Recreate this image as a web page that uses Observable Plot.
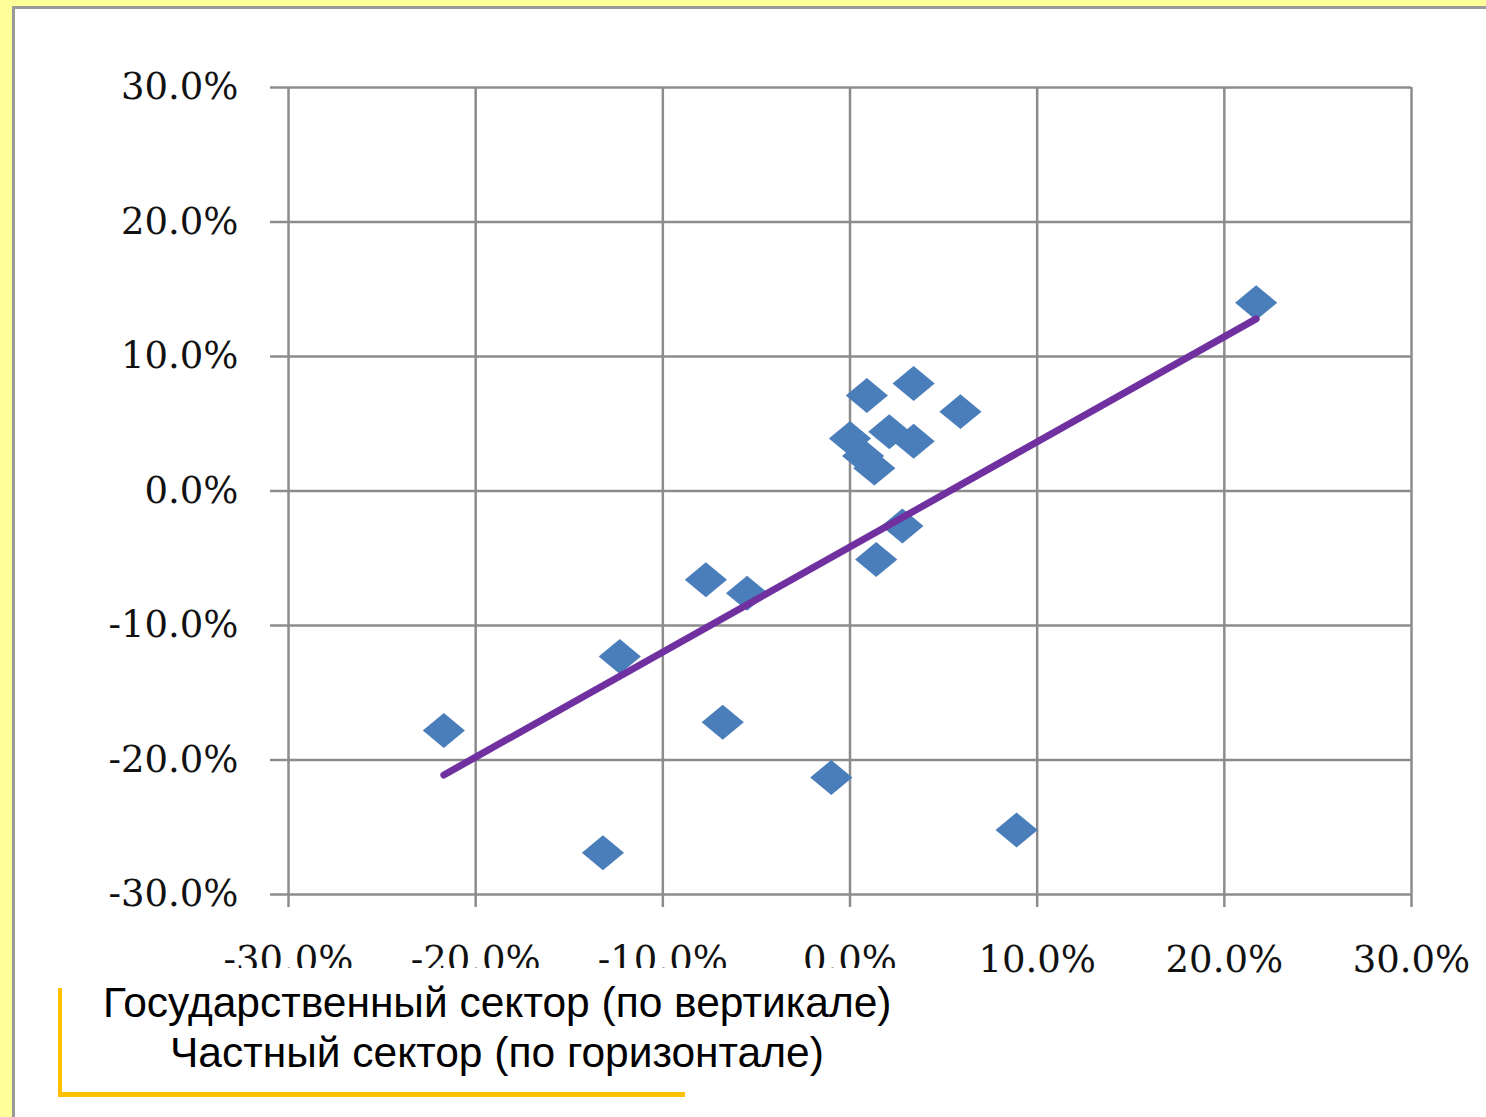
<!DOCTYPE html>
<html>
<head>
<meta charset="utf-8">
<script src="https://cdn.jsdelivr.net/npm/d3@7"></script>
<script src="https://cdn.jsdelivr.net/npm/@observablehq/plot@0.6"></script>
<style>
  html, body { margin: 0; padding: 0; width: 1486px; height: 1117px; overflow: hidden; background: #ffff99; }
  #panel { position: absolute; left: 12px; top: 6px; width: 1474px; height: 1111px; background: #fff;
           border-left: 3px solid #9a9a9a; border-top: 3px solid #9a9a9a; box-sizing: border-box; }
  #chart { position: absolute; left: 0; top: 0; }
  #caption { position: absolute; left: 58px; top: 968px; width: 842px; height: 127px; background: #fff;
             font-family: "Liberation Sans", Arial, sans-serif; font-size: 42.5px; color: #000; }
  #caption .l1 { position: absolute; left: 45px; top: 11px; white-space: nowrap; }
  #caption .l2 { position: absolute; left: 112px; top: 61px; white-space: nowrap; }
  #yline { position: absolute; left: 58px; top: 988px; width: 4px; height: 108px; background: #ffc000; }
  #hline { position: absolute; left: 58px; top: 1092px; width: 627px; height: 5px; background: #ffc000; }
</style>
</head>
<body>
<div id="panel"></div>
<div id="chart"></div>
<div id="caption"><div class="l1">Государственный сектор (по вертикале)</div><div class="l2">Частный сектор (по горизонтале)</div></div>
<div id="yline"></div>
<div id="hline"></div>
<script>
// Private sector growth (x, %) and public sector growth (y, %)
const privateSector = [21.7, 3.4, 0.9, 5.9, 0.0, 2.1, 3.4, 0.7, 1.3, 2.8, 1.4, -7.7, -5.5, -12.3, -6.8, -21.7, -1.0, 8.9, -13.2];
const publicSector  = [14.0, 8.0, 7.1, 5.9, 3.9, 4.4, 3.7, 2.6, 1.7, -2.6, -5.1, -6.6, -7.6, -12.3, -17.2, -17.8, -21.3, -25.2, -26.9];
const xTicks = [-30, -20, -10, 0, 10, 20, 30];
const yTicks = [-30, -20, -10, 0, 10, 20, 30];

const data = privateSector.map((x, i) => ({x, y: publicSector[i]}));
const fmt = d => d.toFixed(1) + "%";
const gridColor = "#8c8c8c";

// Slightly wide diamond, like Excel's marker
const wideDiamond = {
  draw(context, size) {
    const s = Math.sqrt(size);
    const w = s * 0.70, h = s * 0.58;
    context.moveTo(0, -h);
    context.lineTo(w, 0);
    context.lineTo(0, h);
    context.lineTo(-w, 0);
    context.closePath();
  }
};

const chart = Plot.plot({
  width: 1486,
  height: 1000,
  marginLeft: 288,
  marginRight: 75,
  marginTop: 87,
  marginBottom: 106,
  style: {background: "transparent", fontFamily: "'DejaVu Serif', serif", fontSize: "37px", color: "#111"},
  x: {domain: [-30, 30], label: null},
  y: {domain: [-30, 30], label: null},
  marks: [
    Plot.gridX(xTicks, {stroke: gridColor, strokeOpacity: 1, strokeWidth: 2.5}),
    Plot.gridY(yTicks, {stroke: gridColor, strokeOpacity: 1, strokeWidth: 2.5}),
    Plot.axisX({ticks: xTicks, tickFormat: fmt, tickSize: 13, tickPadding: 38, stroke: gridColor, strokeWidth: 2.5, label: null}),
    Plot.axisY({ticks: yTicks, tickFormat: fmt, tickSize: 18, tickPadding: 32, stroke: gridColor, strokeWidth: 2.5, label: null}),
    Plot.dot(data, {x: "x", y: "y", symbol: wideDiamond, r: 17, fill: "#4a7ebb", stroke: "none"}),
    Plot.linearRegressionY(data, {x: "x", y: "y", ci: 0, stroke: "#7030a0", strokeWidth: 7, strokeLinecap: "round"})
  ]
});
document.getElementById("chart").appendChild(chart);
</script>
</body>
</html>
